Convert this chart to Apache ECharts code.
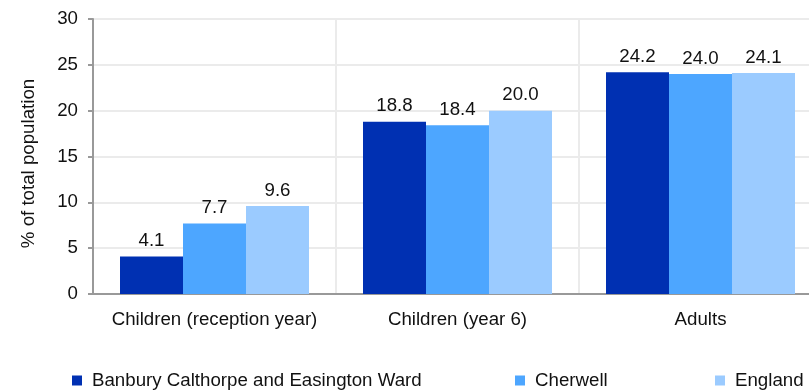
<!DOCTYPE html>
<html><head><meta charset="utf-8">
<script src="https://cdn.jsdelivr.net/npm/echarts@6/dist/echarts.min.js"></script>
<style>html,body{margin:0;padding:0;background:#fff}#c{width:809px;height:390px}</style>
</head><body><div id="c"></div>
<script>
const categories = ['Children (reception year)', 'Children (year 6)', 'Adults'];
const seriesNames = ['Banbury Calthorpe and Easington Ward', 'Cherwell', 'England'];
const banbury = [4.1, 18.8, 24.2];
const cherwell = [7.7, 18.4, 24.0];
const england = [9.6, 20.0, 24.1];
const yTicks = [0, 5, 10, 15, 20, 25, 30];

const colors = ['#0030B2', '#4DA6FF', '#9BCBFF'];
const font = 'Liberation Sans, Arial, sans-serif';
const fs = 18.7;
const values = [banbury, cherwell, england];
const legendLeft = [72, 515, 715];

const chart = echarts.init(document.getElementById('c'), null, {renderer: 'canvas'});
chart.setOption({
  animation: false,
  textStyle: {fontFamily: font},
  grid: {left: 93, width: 729, top: 19, height: 275, containLabel: false, outerBoundsMode: 'none'},
  legend: seriesNames.map((n, i) => ({
    data: [n], left: legendLeft[i], top: 371, padding: 0, itemWidth: 10, itemHeight: 10, itemGap: 0,
    icon: 'rect', textStyle: {fontSize: fs, lineHeight: 18, color: '#111', fontFamily: font, padding: [0, 0, 0, 5]}
  })),
  xAxis: {
    type: 'category', data: categories,
    axisLine: {lineStyle: {color: '#999', width: 2}},
    axisTick: {show: false},
    axisLabel: {interval: 0, fontSize: fs, color: '#111', margin: 16, fontFamily: font},
    splitLine: {show: true, interval: 0, lineStyle: {color: '#ebebeb', width: 2}}
  },
  yAxis: {
    type: 'value', min: yTicks[0], max: yTicks[yTicks.length - 1], interval: 5,
    name: '% of total population', nameLocation: 'middle', nameGap: 55, nameRotate: 90,
    nameTextStyle: {fontSize: fs, color: '#111', fontFamily: font, padding: [0, 14, 0, 0]},
    axisLine: {show: true, lineStyle: {color: '#999', width: 2}},
    axisTick: {show: true, length: 5, lineStyle: {color: '#999', width: 2}},
    axisLabel: {fontSize: fs, color: '#111', margin: 15, fontFamily: font},
    splitLine: {lineStyle: {color: '#ebebeb', width: 2}}
  },
  series: seriesNames.map((n, i) => ({
    name: n, type: 'bar', data: values[i], barWidth: 63, barGap: '0%',
    itemStyle: {color: colors[i]},
    label: {show: true, position: 'top', distance: 6, fontSize: fs, color: '#111', fontFamily: font,
      formatter: p => p.value.toFixed(1)}
  }))
});
</script></body></html>
